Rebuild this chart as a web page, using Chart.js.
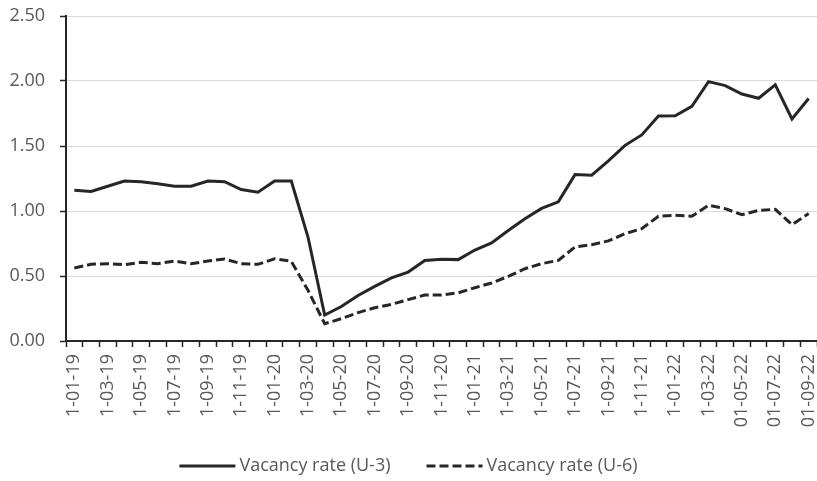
<!DOCTYPE html>
<html>
<head>
<meta charset="utf-8">
<script src="https://cdn.jsdelivr.net/npm/chart.js@4/dist/chart.umd.min.js"></script>
<style>
  html, body { margin: 0; padding: 0; background: #fff; }
  #wrap { width: 817px; height: 481px; }
</style>
</head>
<body>
<div id="wrap"><canvas id="chart" width="817" height="481"></canvas></div>
<script>
// Monthly observations, Jan 2019 .. Sep 2022 (first of each month).
const months = [
    "1-01-19", "1-02-19", "1-03-19", "1-04-19", "1-05-19", "1-06-19",
    "1-07-19", "1-08-19", "1-09-19", "1-10-19", "1-11-19", "1-12-19",
    "1-01-20", "1-02-20", "1-03-20", "1-04-20", "1-05-20", "1-06-20",
    "1-07-20", "1-08-20", "1-09-20", "1-10-20", "1-11-20", "1-12-20",
    "1-01-21", "1-02-21", "1-03-21", "1-04-21", "1-05-21", "1-06-21",
    "1-07-21", "1-08-21", "1-09-21", "1-10-21", "1-11-21", "1-12-21",
    "1-01-22", "1-02-22", "1-03-22", "01-04-22", "01-05-22", "01-06-22",
    "01-07-22", "01-08-22", "01-09-22",
];

const vacancyU3 = [
    1.16, 1.15, 1.19, 1.23, 1.225, 1.21, 1.19, 1.19, 1.23, 1.225, 1.165, 1.145,
    1.23, 1.23, 0.80, 0.20, 0.265, 0.35, 0.42, 0.485, 0.53, 0.62, 0.628, 0.626,
    0.70, 0.755, 0.85, 0.94, 1.02, 1.07, 1.28, 1.275, 1.385, 1.505, 1.585, 1.73,
    1.733, 1.805, 1.995, 1.965, 1.90, 1.867, 1.97, 1.708, 1.865,
];

const vacancyU6 = [
    0.562, 0.59, 0.595, 0.587, 0.605, 0.595, 0.615, 0.595, 0.615, 0.63, 0.595, 0.59,
    0.633, 0.613, 0.39, 0.133, 0.172, 0.218, 0.256, 0.282, 0.318, 0.354, 0.354, 0.37,
    0.41, 0.446, 0.497, 0.556, 0.595, 0.62, 0.723, 0.741, 0.77, 0.826, 0.864, 0.959,
    0.967, 0.959, 1.044, 1.018, 0.972, 1.005, 1.013, 0.895, 0.98,
];

const yTicks = [0, 0.5, 1.0, 1.5, 2.0, 2.5];

const INK = "#262626";
const TEXT = "#595959";
const GRID = "#d9d9d9";
const FONT_FAMILY = "'Open Sans', 'Noto Sans', sans-serif";
const FONT = { family: FONT_FAMILY, size: 18 };

// The stock legend can't draw a dashed line sample with custom spacing,
// so draw the Excel-style "line + label" legend ourselves.
const lineLegend = {
    id: "lineLegend",
    afterDraw(chart) {
        const { ctx } = chart;
        const sample = 56, gap = 4, between = 36, y = 466;
        ctx.save();
        ctx.font = `${FONT.size}px ${FONT_FAMILY}`;
        const items = chart.data.datasets.map((ds) => ({ ds, w: ctx.measureText(ds.label).width }));
        const total = items.reduce((s, it) => s + sample + gap + it.w, 0) + between * (items.length - 1);
        let x = (chart.width - total) / 2;
        items.forEach(({ ds, w }) => {
            ctx.strokeStyle = ds.borderColor;
            ctx.lineWidth = ds.borderWidth;
            ctx.setLineDash(ds.borderDash || []);
            ctx.beginPath();
            ctx.moveTo(x, y);
            ctx.lineTo(x + sample, y);
            ctx.stroke();
            ctx.setLineDash([]);
            ctx.fillStyle = TEXT;
            ctx.textBaseline = "middle";
            ctx.textAlign = "left";
            ctx.fillText(ds.label, x + sample + gap, y);
            x += sample + gap + w + between;
        });
        ctx.restore();
    },
};

new Chart(document.getElementById("chart").getContext("2d"), {
    type: "line",
    data: {
        labels: months,
        datasets: [
            {
                label: "Vacancy rate (U-3)",
                data: vacancyU3,
                borderColor: INK,
                backgroundColor: "rgba(0,0,0,0)",
                borderWidth: 3,
                pointRadius: 0,
                tension: 0,
            },
            {
                label: "Vacancy rate (U-6)",
                data: vacancyU6,
                borderColor: INK,
                backgroundColor: "rgba(0,0,0,0)",
                borderWidth: 3,
                borderDash: [9, 4],
                pointRadius: 0,
                tension: 0,
            },
        ],
    },
    options: {
        responsive: false,
        animation: false,
        layout: { padding: { top: 0, right: 0, bottom: 40, left: 0 } },
        plugins: {
            tooltip: { enabled: false },
            legend: { display: false },
        },
        scales: {
            x: {
                offset: true,
                grid: {
                    offset: true,
                    drawOnChartArea: false,
                    drawTicks: true,
                    tickLength: 6,
                    tickColor: INK,
                    tickWidth: 1.5,
                },
                border: { color: INK, width: 2 },
                ticks: {
                    autoSkip: false,
                    minRotation: 90,
                    maxRotation: 90,
                    padding: 7,
                    color: TEXT,
                    font: FONT,
                    callback: (v, i) => (i % 2 === 0 ? months[i] : ""),
                },
                afterFit: (scale) => {
                    scale.height = 100;
                    scale.paddingLeft = 0;
                    scale.paddingRight = 0;
                },
            },
            y: {
                min: 0,
                max: 2.5,
                afterBuildTicks: (scale) => { scale.ticks = yTicks.map((v) => ({ value: v })); },
                grid: {
                    color: GRID,
                    lineWidth: 1,
                    tickLength: 6,
                    tickColor: INK,
                    tickWidth: 1.5,
                },
                border: { color: INK, width: 2 },
                ticks: {
                    padding: 15,
                    color: TEXT,
                    font: FONT,
                    callback: (v) => Number(v).toFixed(2),
                },
                afterFit: (scale) => {
                    scale.width = 66;
                    scale.paddingTop = 16;
                },
            },
        },
    },
    plugins: [lineLegend],
});
</script>
</body>
</html>
